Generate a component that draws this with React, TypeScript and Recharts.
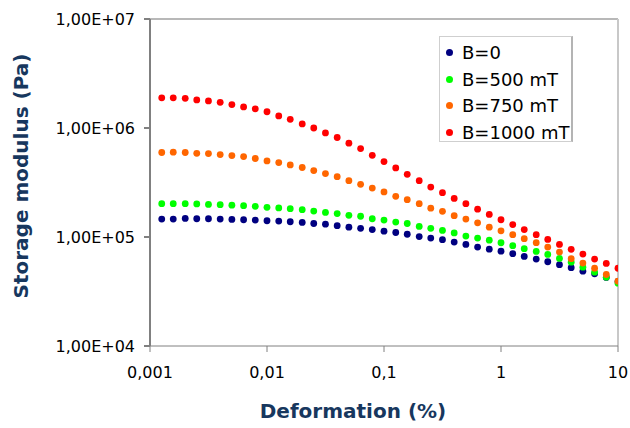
import { Label, Legend, ReferenceLine, Scatter, ScatterChart, XAxis, YAxis } from "recharts";

// strain steps, 10 per decade
const strain = [
  0.00126, 0.00158, 0.002, 0.00251, 0.00316, 0.00398, 0.00501, 0.00631, 0.00794, 0.01,
  0.0126, 0.0158, 0.02, 0.0251, 0.0316, 0.0398, 0.0501, 0.0631, 0.0794, 0.1,
  0.126, 0.158, 0.2, 0.251, 0.316, 0.398, 0.501, 0.631, 0.794, 1,
  1.26, 1.58, 2, 2.51, 3.16, 3.98, 5.01, 6.31, 7.94, 10,
];

const b0 = [
  1.46e5, 1.46e5, 1.48e5, 1.47e5, 1.47e5, 1.46e5, 1.45e5, 1.44e5, 1.43e5, 1.41e5,
  1.4e5, 1.38e5, 1.36e5, 1.33e5, 1.31e5, 1.27e5, 1.23e5, 1.2e5, 1.17e5, 1.13e5,
  1.1e5, 1.06e5, 1.01e5, 9.78e4, 9.45e4, 8.98e4, 8.55e4, 8.08e4, 7.74e4, 7.42e4,
  7.03e4, 6.64e4, 6.27e4, 5.93e4, 5.57e4, 5.23e4, 4.86e4, 4.6e4, 4.26e4, 3.91e4,
];

const b500 = [
  2.02e5, 2.02e5, 2.02e5, 2.01e5, 1.99e5, 1.98e5, 1.96e5, 1.94e5, 1.91e5, 1.87e5,
  1.85e5, 1.82e5, 1.78e5, 1.73e5, 1.68e5, 1.64e5, 1.58e5, 1.55e5, 1.47e5, 1.43e5,
  1.37e5, 1.33e5, 1.25e5, 1.2e5, 1.15e5, 1.09e5, 1.02e5, 9.77e4, 9.36e4, 8.86e4,
  8.32e4, 7.81e4, 7.37e4, 6.92e4, 6.36e4, 5.88e4, 5.29e4, 4.76e4, 4.28e4, 3.77e4,
];

const b750 = [
  5.96e5, 6.0e5, 5.96e5, 5.86e5, 5.83e5, 5.71e5, 5.58e5, 5.47e5, 5.25e5, 4.99e5,
  4.82e5, 4.58e5, 4.34e5, 4.07e5, 3.82e5, 3.58e5, 3.29e5, 3.04e5, 2.81e5, 2.59e5,
  2.36e5, 2.2e5, 2.02e5, 1.84e5, 1.72e5, 1.57e5, 1.46e5, 1.35e5, 1.23e5, 1.14e5,
  1.05e5, 9.65e4, 8.87e4, 8.08e4, 7.27e4, 6.32e4, 5.76e4, 5.18e4, 4.53e4, 3.93e4,
];

const b1000 = [
  1.89e6, 1.89e6, 1.87e6, 1.81e6, 1.77e6, 1.72e6, 1.64e6, 1.56e6, 1.5e6, 1.41e6,
  1.29e6, 1.2e6, 1.09e6, 1.0e6, 9.02e5, 8.18e5, 7.25e5, 6.48e5, 5.62e5, 4.92e5,
  4.3e5, 3.76e5, 3.29e5, 2.87e5, 2.55e5, 2.26e5, 2.02e5, 1.8e5, 1.61e5, 1.44e5,
  1.3e5, 1.17e5, 1.05e5, 9.5e4, 8.55e4, 7.7e4, 6.97e4, 6.27e4, 5.72e4, 5.17e4,
];

const xTicks = [0.001, 0.01, 0.1, 1, 10];
const yTicks = [1e4, 1e5, 1e6, 1e7];

const series = [
  { name: "B=0", color: "#000080", values: b0 },
  { name: "B=500 mT", color: "#00ff00", values: b500 },
  { name: "B=750 mT", color: "#ff6600", values: b750 },
  { name: "B=1000 mT", color: "#ff0000", values: b1000 },
];

const FONT = "'DejaVu Sans', Verdana, sans-serif";
const TITLE = "#17375e";

const fmtX = (v: number) => String(v).replace(".", ",");
const fmtY = (v: number) => {
  const e = Math.round(Math.log10(v));
  return `1,00E+${String(e).padStart(2, "0")}`;
};

function LegendBox() {
  return (
    <div
      style={{
        width: 134,
        height: 106,
        boxSizing: "border-box",
        border: "1px solid #cfcfcf",
        borderRight: "2px solid #b4b4b4",
        background: "#fff",
        padding: "2px 0 0 6px",
        fontFamily: FONT,
        fontSize: 18,
        color: "#000",
      }}
    >
      {series.map((s) => (
        <div key={s.name} style={{ height: 26.7, display: "flex", alignItems: "center" }}>
          <span
            style={{
              width: 7,
              height: 7,
              borderRadius: "50%",
              background: s.color,
              display: "inline-block",
              marginRight: 9,
            }}
          />
          <span style={{ whiteSpace: "nowrap" }}>{s.name}</span>
        </div>
      ))}
    </div>
  );
}

export default function App() {
  return (
    <div style={{ position: "absolute", left: 0, top: 0, background: "#fff" }}>
      <ScatterChart width={630} height={428} margin={{ top: 19, right: 12, bottom: 0, left: 0 }}>
        <XAxis
          type="number"
          dataKey="x"
          scale="log"
          domain={[0.001, 10]}
          ticks={xTicks}
          tickFormatter={fmtX}
          allowDataOverflow
          height={82}
          stroke="#808080"
          tickSize={6}
          tickMargin={15}
          tick={{ fill: "#000", fontSize: 16, fontFamily: FONT }}
        >
          <Label
            value="Deformation (%)"
            position="insideBottom"
            offset={10}
            dx={-31}
            fill={TITLE}
            fontSize={20}
            fontWeight="bold"
            fontFamily={FONT}
          />
        </XAxis>
        <YAxis
          type="number"
          dataKey="y"
          scale="log"
          domain={[1e4, 1e7]}
          ticks={yTicks}
          tickFormatter={fmtY}
          allowDataOverflow
          width={150}
          stroke="#808080"
          strokeWidth={2}
          tickSize={6}
          tickMargin={9}
          tick={{ fill: "#000", fontSize: 16, fontFamily: FONT }}
        >
          <Label
            content={() => (
              <text
                x={28}
                y={176}
                transform="rotate(-90 28 176)"
                textAnchor="middle"
                fill={TITLE}
                fontSize={20}
                fontWeight="bold"
                fontFamily={FONT}
              >
                Storage modulus (Pa)
              </text>
            )}
          />
        </YAxis>
        <ReferenceLine y={1e7} stroke="#a0a0a0" strokeWidth={1.5} />
        <ReferenceLine x={10} stroke="#c8c8c8" strokeWidth={2} />
        {series.map((s) => (
          <Scatter
            key={s.name}
            name={s.name}
            data={strain.map((x, i) => ({ x, y: s.values[i] }))}
            fill={s.color}
            isAnimationActive={false}
            shape={(p: any) => <circle cx={p.cx} cy={p.cy} r={3.4} fill={s.color} />}
          />
        ))}
        <Legend
          layout="vertical"
          align="center"
          verticalAlign="middle"
          content={() => <LegendBox />}
          wrapperStyle={{ position: "absolute", left: 439, top: 36, width: 136 }}
        />
      </ScatterChart>
    </div>
  );
}
